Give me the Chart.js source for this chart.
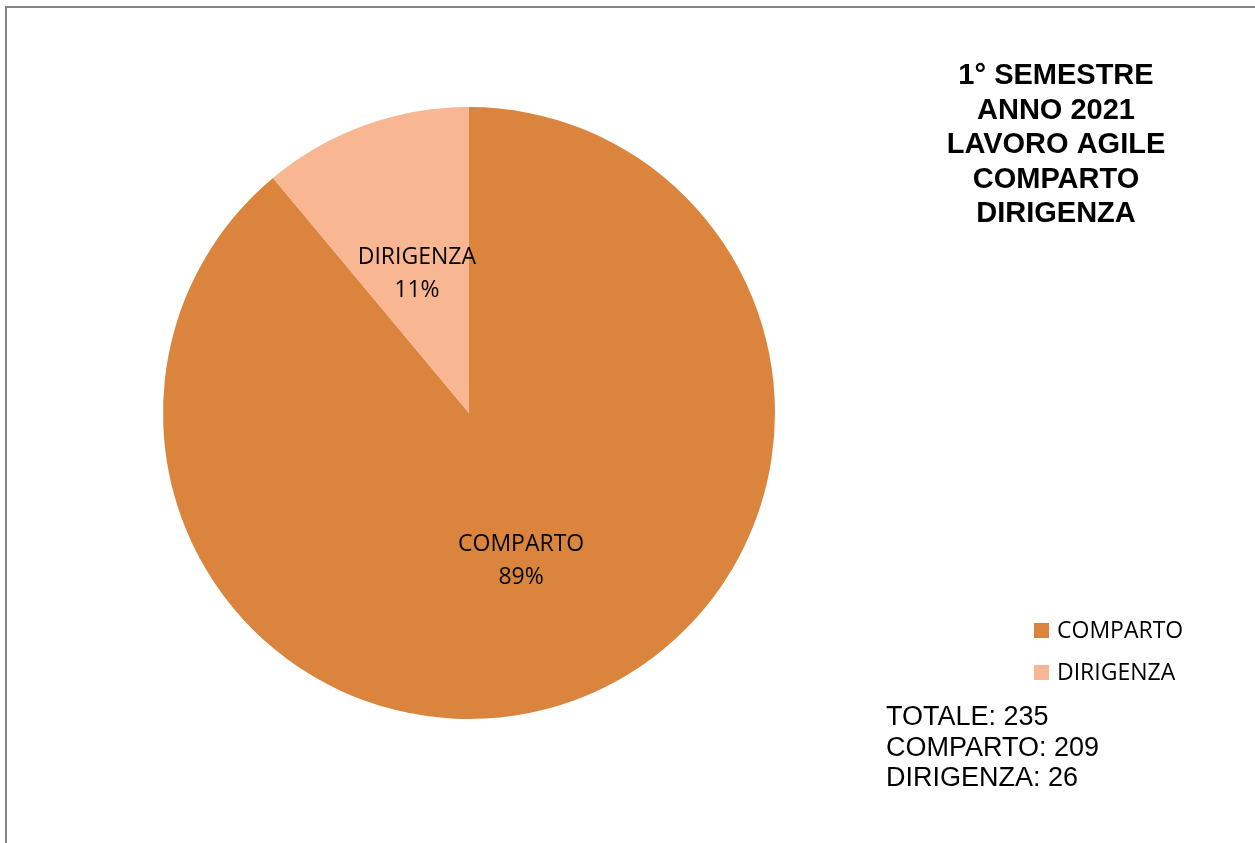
<!DOCTYPE html>
<html>
<head>
<meta charset="utf-8">
<script src="https://cdn.jsdelivr.net/npm/chart.js@4/dist/chart.umd.min.js"></script>
<style>
    html, body { margin: 0; padding: 0; background: #fff; }
    #wrap { width: 1255px; height: 843px; position: relative; }
</style>
</head>
<body>
<div id="wrap"><canvas id="pieChart"></canvas></div>
<script>
// Lavoro agile, 1° semestre 2021
const categories = ['COMPARTO', 'DIRIGENZA'];
const counts = [209, 26];
const sliceColors = ['#DB843D', '#F9B692'];
const titleLines = ['1° SEMESTRE', 'ANNO 2021', 'LAVORO AGILE', 'COMPARTO', 'DIRIGENZA'];

const total = counts.reduce((a, b) => a + b, 0);
const totalsLines = ['TOTALE: ' + total].concat(categories.map((c, i) => c + ': ' + counts[i]));

const labelFont = '23px "Open Sans"';

// frame, title, slice labels, legend and totals
const decorations = {
    id: 'decorations',
    afterDraw(chart) {
        const ctx = chart.ctx;
        ctx.save();

        // outer frame (only top and left edges are visible)
        ctx.strokeStyle = '#858585';
        ctx.lineWidth = 2;
        ctx.beginPath();
        ctx.moveTo(6, 843);
        ctx.lineTo(6, 7);
        ctx.lineTo(1255, 7);
        ctx.stroke();

        // labels inside slices
        const meta = chart.getDatasetMeta(0);
        ctx.fillStyle = '#000';
        ctx.font = labelFont;
        ctx.textAlign = 'center';
        ctx.textBaseline = 'middle';
        meta.data.forEach((arc, i) => {
            const p = arc.getProps(['x', 'y', 'startAngle', 'endAngle', 'outerRadius'], true);
            const mid = (p.startAngle + p.endAngle) / 2;
            const r = p.outerRadius * 0.5;
            const cx = p.x + Math.cos(mid) * r;
            const cy = p.y + Math.sin(mid) * r + 4;
            const pct = Math.round(counts[i] / total * 100) + '%';
            ctx.fillText(categories[i], cx, cy - 16);
            ctx.fillText(pct, cx, cy + 17);
        });

        // title
        ctx.font = 'bold 29px "Liberation Sans", Arial, sans-serif';
        titleLines.forEach((line, i) => {
            ctx.fillText(line, 1056, 76 + i * 34.5);
        });

        // legend
        ctx.textAlign = 'left';
        ctx.font = labelFont;
        categories.forEach((c, i) => {
            const y = 631 + i * 42;
            ctx.fillStyle = sliceColors[i];
            ctx.fillRect(1034, y - 8, 15, 15);
            ctx.fillStyle = '#000';
            ctx.fillText(c, 1057, y);
        });

        // totals
        ctx.font = '27px "Liberation Sans", Arial, sans-serif';
        totalsLines.forEach((line, i) => {
            ctx.fillText(line, 886, 718 + i * 30.5);
        });

        ctx.restore();
    }
};

new Chart(document.getElementById('pieChart'), {
    type: 'pie',
    data: {
        labels: categories,
        datasets: [{
            data: counts,
            backgroundColor: sliceColors,
            borderWidth: 0
        }]
    },
    options: {
        responsive: true,
        maintainAspectRatio: false,
        animation: false,
        layout: { padding: { left: 163, right: 480, top: 107, bottom: 124 } },
        plugins: {
            legend: { display: false },
            tooltip: { enabled: false }
        }
    },
    plugins: [decorations]
});
</script>
</body>
</html>
